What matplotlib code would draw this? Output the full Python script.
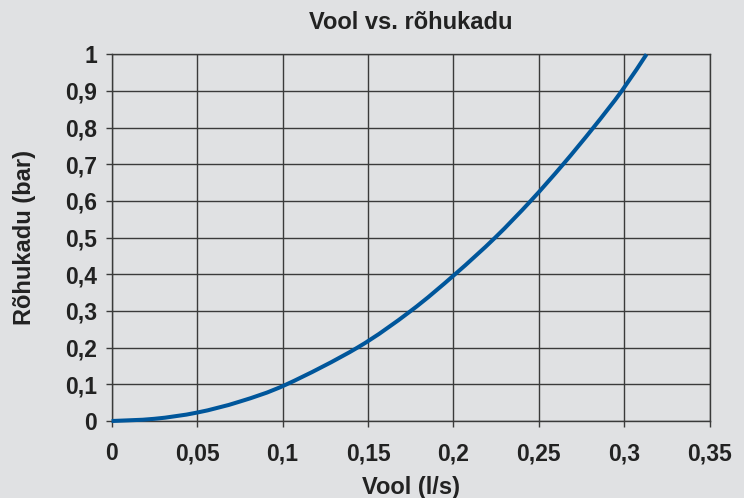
import matplotlib.pyplot as plt
from matplotlib.path import Path
from matplotlib.patches import PathPatch

plt.rcParams['font.family'] = ['Liberation Sans', 'DejaVu Sans']
plt.rcParams['font.weight'] = 'bold'

# values (grid crossings)
flow = [0.0, 0.025, 0.05, 0.075, 0.1024, 0.1438, 0.175, 0.2009, 0.2244,
        0.2452, 0.2642, 0.2819, 0.2985, 0.313]
drop = [0.0, 0.006, 0.023, 0.053, 0.1, 0.2, 0.3, 0.4, 0.5,
        0.6, 0.7, 0.8, 0.9, 1.0]

x_ticks = [0, 0.05, 0.1, 0.15, 0.2, 0.25, 0.3, 0.35]
y_ticks = [0, 0.1, 0.2, 0.3, 0.4, 0.5, 0.6, 0.7, 0.8, 0.9, 1]

bg = '#e0e1e3'
grid_c = '#3a3a3a'
txt_c = '#222222'


def comma(v):
    return f"{v:g}".replace('.', ',')


def smooth_path(xs, ys):
    # smoothed line like the spreadsheet one: catmull-rom -> bezier segments
    pts = list(zip(xs, ys))
    verts = [pts[0]]
    codes = [Path.MOVETO]
    n = len(pts)
    for i in range(n - 1):
        p0 = pts[i - 1] if i > 0 else pts[i]
        p1 = pts[i]
        p2 = pts[i + 1]
        p3 = pts[i + 2] if i + 2 < n else pts[i + 1]
        c1 = (p1[0] + (p2[0] - p0[0]) / 6, p1[1] + (p2[1] - p0[1]) / 6)
        c2 = (p2[0] - (p3[0] - p1[0]) / 6, p2[1] - (p3[1] - p1[1]) / 6)
        verts += [c1, c2, p2]
        codes += [Path.CURVE4] * 3
    return Path(verts, codes)


fig = plt.figure(figsize=(7.44, 4.98), dpi=100, facecolor=bg)
ax = fig.add_axes([0.150, 0.1546, 0.804, 0.7364], facecolor=bg)

line = PathPatch(smooth_path(flow, drop), facecolor='none', edgecolor='#00569b',
                 lw=2.9, capstyle='butt', joinstyle='round', zorder=3, clip_on=False)
ax.add_patch(line)

ax.set_xlim(0, 0.35)
ax.set_ylim(0, 1)
ax.set_xticks(x_ticks)
ax.set_yticks(y_ticks)
ax.set_xticklabels([comma(v) for v in x_ticks])
ax.set_yticklabels([comma(v) for v in y_ticks])
ax.grid(True, color=grid_c, lw=1)
ax.set_axisbelow(True)
for sp in ax.spines.values():
    sp.set_color(grid_c)
    sp.set_linewidth(1)
ax.tick_params(direction='out', length=4.3, width=1, color=grid_c,
               labelsize=16.5, labelcolor=txt_c)
ax.tick_params(axis='x', pad=11)
ax.tick_params(axis='y', pad=6)

ax.set_title('Vool vs. rõhukadu', fontsize=17, fontweight='bold', color=txt_c, pad=18)
ax.set_xlabel('Vool (l/s)', fontsize=17, fontweight='bold', color=txt_c, labelpad=7.5)
ax.set_ylabel('Rõhukadu (bar)', fontsize=17, fontweight='bold', color=txt_c, labelpad=21)

fig.savefig('out.png', dpi=100, facecolor=bg)
